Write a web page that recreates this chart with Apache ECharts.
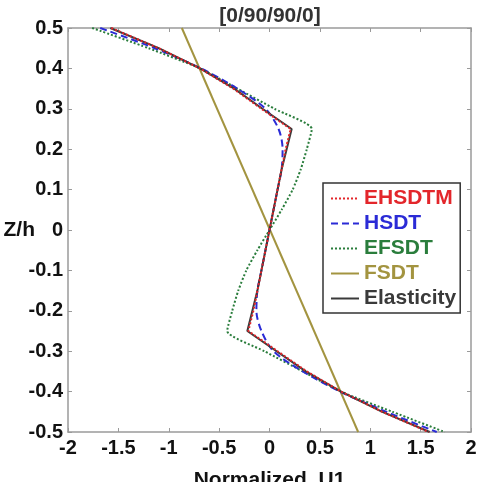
<!DOCTYPE html>
<html>
<head>
<meta charset="utf-8">
<script src="https://cdn.jsdelivr.net/npm/echarts@6/dist/echarts.min.js"></script>
<style>
    html, body { margin: 0; padding: 0; background: #fff; }
    #chart { width: 482px; height: 482px; }
</style>
</head>
<body>
<div id="chart"></div>
<script>
// 数据：Z/h 层位与各理论的归一化位移
var zLevels = [0.5, 0.45, 0.4, 0.35, 0.3, 0.25, 0.2, 0.15, 0.1, 0.05, 0,
    -0.05, -0.1, -0.15, -0.2, -0.25, -0.3, -0.35, -0.4, -0.45, -0.5];
var ehsdtmX = [-1.57, -1.1, -0.69, -0.36, -0.08, 0.21, 0.16, 0.12, 0.08, 0.04, 0,
    -0.04, -0.08, -0.12, -0.16, -0.21, 0.08, 0.37, 0.71, 1.12, 1.58];
var hsdtX = [-1.68, -1.14, -0.68, -0.32, -0.04, 0.09, 0.13, 0.12, 0.08, 0.04, 0,
    -0.04, -0.08, -0.12, -0.13, -0.08, 0.04, 0.33, 0.7, 1.16, 1.66];
var efsdtX = [-1.76, -1.2, -0.69, -0.32, 0.05, 0.42, 0.37, 0.31, 0.23, 0.12, 0,
    -0.12, -0.23, -0.31, -0.37, -0.42, -0.05, 0.33, 0.71, 1.22, 1.74];
var elasticityX = [-1.58, -1.1, -0.69, -0.35, -0.07, 0.22, 0.17, 0.12, 0.08, 0.04, 0,
    -0.04, -0.08, -0.12, -0.17, -0.22, 0.07, 0.36, 0.71, 1.12, 1.59];
var fsdtZ = [0.5, -0.5];
var fsdtX = [-0.87, 0.88];

var names = ['EHSDTM', 'HSDT', 'EFSDT', 'FSDT', 'Elasticity'];
var colors = ['#e3262b', '#2b2bd6', '#2a7d3c', '#a39440', '#3a3a3a'];

function pairs(xs, zs) {
    var out = [];
    for (var i = 0; i < xs.length; i++) {
        out.push([xs[i], zs[i]]);
    }
    return out;
}

var chart = echarts.init(document.getElementById('chart'));
var tickFont = { fontFamily: 'Liberation Sans', fontWeight: 'bold', fontSize: 20, color: '#111' };
var nameFont = { fontFamily: 'Liberation Sans', fontWeight: 'bold', fontSize: 21, color: '#111' };
var boxColor = '#9a9a9a';

var legendData = [];
for (var i = 0; i < names.length; i++) {
    legendData.push({ name: names[i], textStyle: { color: colors[i] } });
}

function frameAxis(pos, min, max, interval) {
    return {
        type: 'value',
        position: pos,
        min: min,
        max: max,
        interval: interval,
        axisLine: { onZero: false, lineStyle: { color: boxColor, width: 1.5 } },
        axisTick: { inside: true, length: 4, lineStyle: { color: boxColor } },
        axisLabel: { show: false },
        splitLine: { show: false }
    };
}

chart.setOption({
    animation: false,
    title: {
        text: '[0/90/90/0]',
        left: 265,
        top: 1,
        textAlign: 'center',
        textStyle: { fontFamily: 'Liberation Sans', fontWeight: 'bold', fontSize: 21, color: '#333' }
    },
    grid: { left: 68, right: 11, top: 28, bottom: 50, outerBoundsMode: 'none' },
    legend: {
        orient: 'vertical',
        left: 323,
        top: 183,
        data: legendData,
        itemWidth: 28,
        itemHeight: 2,
        itemGap: 4,
        padding: [5, 4, 4, 7],
        borderColor: '#333',
        borderWidth: 1.5,
        backgroundColor: '#fff',
        itemStyle: { opacity: 0 },
        textStyle: { fontFamily: 'Liberation Sans', fontWeight: 'bold', fontSize: 21, lineHeight: 21 }
    },
    xAxis: [Object.assign(frameAxis('bottom', -2, 2, 0.5), {
        name: 'Normalized  U1',
        nameLocation: 'middle',
        nameGap: 38,
        nameMoveOverlap: false,
        nameTextStyle: nameFont,
        axisLabel: Object.assign({ margin: 6 }, tickFont)
    }), frameAxis('top', -2, 2, 0.5)],
    yAxis: [Object.assign(frameAxis('left', -0.5, 0.5, 0.1), {
        name: 'Z/h',
        nameLocation: 'middle',
        nameRotate: 0,
        nameGap: 33,
        nameMoveOverlap: false,
        nameTextStyle: nameFont,
        axisLabel: Object.assign({ margin: 5 }, tickFont)
    }), frameAxis('right', -0.5, 0.5, 0.1)],
    series: [{
        name: 'FSDT',
        type: 'line',
        symbol: 'none',
        z: 1,
        data: pairs(fsdtX, fsdtZ),
        lineStyle: { color: colors[3], width: 2 },
        itemStyle: { color: colors[3] }
    }, {
        name: 'EFSDT',
        type: 'line',
        symbol: 'none',
        smooth: 0.2,
        z: 2,
        data: pairs(efsdtX, zLevels),
        lineStyle: { color: colors[2], width: 2, type: 'dotted' },
        itemStyle: { color: colors[2] }
    }, {
        name: 'HSDT',
        type: 'line',
        symbol: 'none',
        smooth: 0.3,
        z: 3,
        data: pairs(hsdtX, zLevels),
        lineStyle: { color: colors[1], width: 2, type: [7, 4] },
        itemStyle: { color: colors[1] }
    }, {
        name: 'Elasticity',
        type: 'line',
        symbol: 'none',
        z: 4,
        data: pairs(elasticityX, zLevels),
        lineStyle: { color: colors[4], width: 2 },
        itemStyle: { color: colors[4] }
    }, {
        name: 'EHSDTM',
        type: 'line',
        symbol: 'none',
        z: 5,
        data: pairs(ehsdtmX, zLevels),
        lineStyle: { color: colors[0], width: 2, type: 'dotted' },
        itemStyle: { color: colors[0] }
    }]
});
</script>
</body>
</html>
